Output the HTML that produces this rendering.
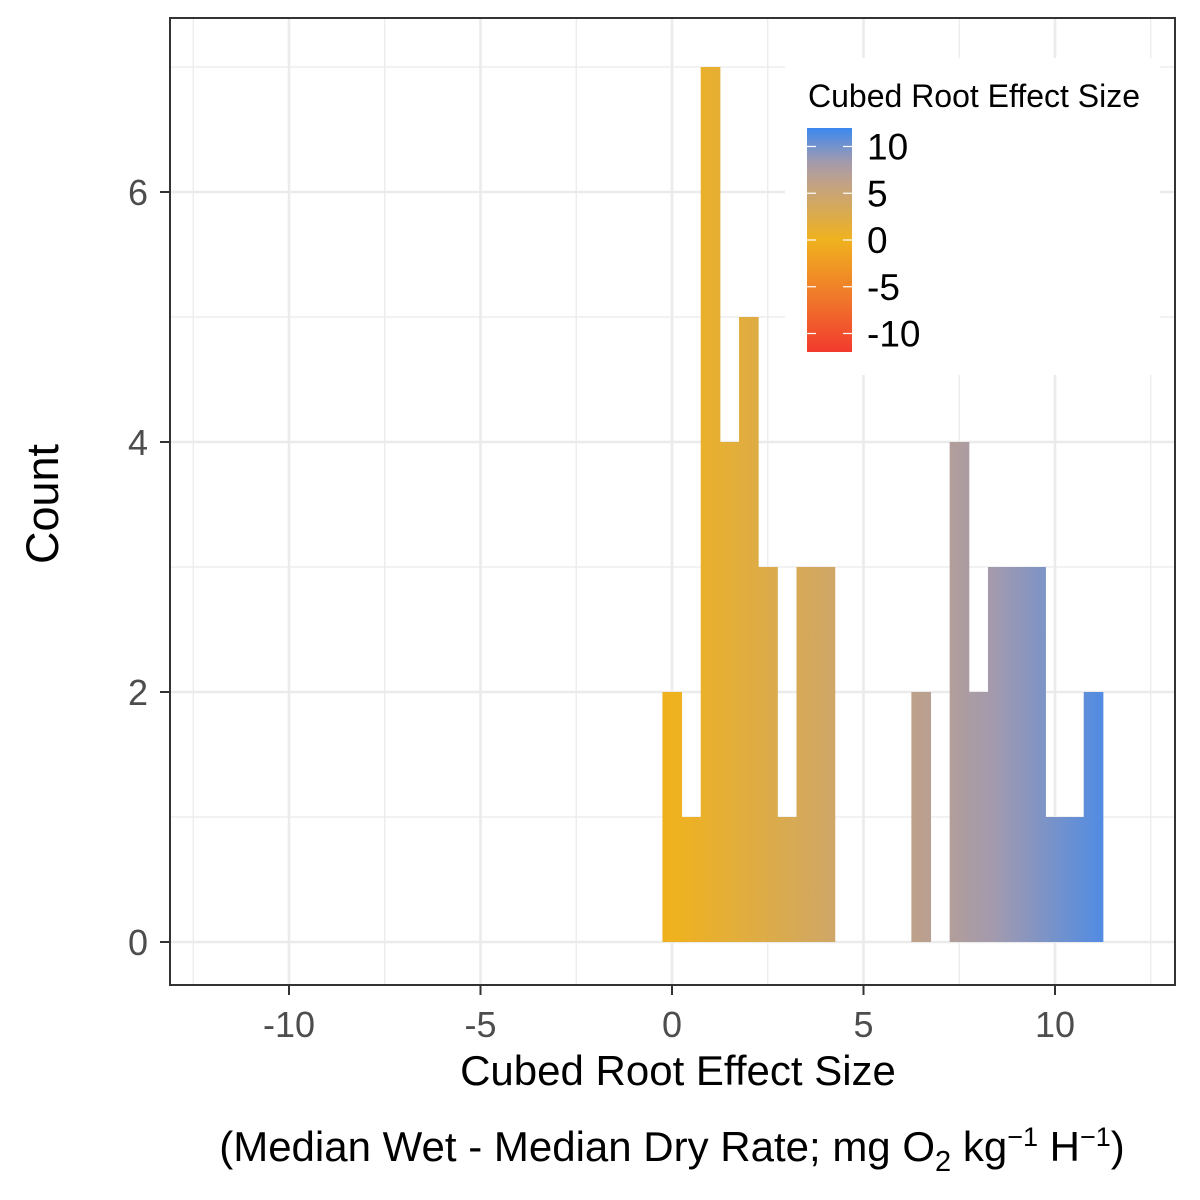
<!DOCTYPE html>
<html><head><meta charset="utf-8"><style>
html,body{margin:0;padding:0;background:#fff}
svg{display:block;font-family:"Liberation Sans",Arial,sans-serif}
</style></head><body>
<svg id="chart" width="1200" height="1200" viewBox="0 0 1200 1200">
<defs>
<linearGradient id="xgrad" gradientUnits="userSpaceOnUse" x1="212" y1="0" x2="1132" y2="0">
<stop offset="0" stop-color="#F23A2E"/>
<stop offset="0.25" stop-color="#F07A2A"/>
<stop offset="0.5" stop-color="#EFB21E"/>
<stop offset="0.75" stop-color="#C2A285"/>
<stop offset="0.85" stop-color="#A39AAE"/>
<stop offset="1" stop-color="#3B88F0"/>
</linearGradient>
<linearGradient id="lgrad" x1="0" y1="1" x2="0" y2="0">
<stop offset="0" stop-color="#F23A2E"/>
<stop offset="0.25" stop-color="#F07A2A"/>
<stop offset="0.5" stop-color="#EFB21E"/>
<stop offset="0.75" stop-color="#C2A285"/>
<stop offset="0.85" stop-color="#A39AAE"/>
<stop offset="1" stop-color="#3B88F0"/>
</linearGradient>
</defs>
<g id="grid"></g>
<g id="bars"></g>
<rect x="170" y="18" width="1005" height="967" fill="none" stroke="#333" stroke-width="2"/>
<g id="axes"></g>
<text x="678" y="1085" font-size="42" text-anchor="middle" fill="#000">Cubed Root Effect Size</text>
<text x="672" y="1161" font-size="42" text-anchor="middle" fill="#000">(Median Wet - Median Dry Rate; mg O<tspan font-size="29" dy="10">2</tspan><tspan dy="-10"> kg</tspan><tspan font-size="27" dy="-15">−1</tspan><tspan dy="15"> H</tspan><tspan font-size="27" dy="-15">−1</tspan><tspan dy="15">)</tspan></text>
<text transform="translate(58,504) rotate(-90)" font-size="45" text-anchor="middle" fill="#000">Count</text>
<g>
<rect x="785" y="58" width="375" height="317" fill="#fff"/>
<text x="808" y="107" font-size="32" fill="#000">Cubed Root Effect Size</text>
<rect x="807" y="128" width="45" height="224" fill="url(#lgrad)"/>
<g id="legendticks"></g>
</g>
</svg>
<script>
const counts = [2,1,7,4,5,3,1,3,3,0,0,0,0,2,0,4,2,3,3,3,1,1,2];
const binStart = 0;
const binWidth = 0.5;
const xTicks = [-10,-5,0,5,10];
const xMinor = [-12.5,-7.5,-2.5,2.5,7.5,12.5];
const yTicks = [0,2,4,6];
const yMinor = [1,3,5,7];
const legendTicks = [10,5,0,-5,-10];

const NS="http://www.w3.org/2000/svg";
const xs=v=>672+v*38.3;
const ys=v=>942-v*125;
const ls=v=>240-v*9.35;
function mk(tag,attrs,parent){const e=document.createElementNS(NS,tag);for(const k in attrs)e.setAttribute(k,attrs[k]);parent.appendChild(e);return e;}
const grid=document.getElementById('grid'),bars=document.getElementById('bars'),axes=document.getElementById('axes'),lt=document.getElementById('legendticks');
xMinor.forEach(v=>{const l=mk('line',{x1:xs(v),x2:xs(v),y1:18,y2:985,stroke:'#EBEBEB','stroke-width':1.3},grid);

});
yMinor.forEach(v=>{const l=mk('line',{x1:170,x2:1175,y1:ys(v),y2:ys(v),stroke:'#EBEBEB','stroke-width':1.3},grid);

});
xTicks.forEach(v=>{const l=mk('line',{x1:xs(v),x2:xs(v),y1:18,y2:985,stroke:'#EBEBEB','stroke-width':2.6},grid);


const t=mk('line',{x1:xs(v),x2:xs(v),y1:985,y2:995,stroke:'#333','stroke-width':2},axes);


const tx=mk('text',{x:xs(v),y:1037,'font-size':36,'text-anchor':'middle',fill:'#4D4D4D'},axes);tx.textContent=v;

});
yTicks.forEach(v=>{const l=mk('line',{x1:170,x2:1175,y1:ys(v),y2:ys(v),stroke:'#EBEBEB','stroke-width':2.6},grid);


const t=mk('line',{x1:160,x2:170,y1:ys(v),y2:ys(v),stroke:'#333','stroke-width':2},axes);


const tx=mk('text',{x:148,y:ys(v)+13,'font-size':36,'text-anchor':'end',fill:'#4D4D4D'},axes);tx.textContent=v;

});
counts.forEach((c,i)=>{if(!c)return;const cx=binStart+i*binWidth;const x0=xs(cx-binWidth/2),x1=xs(cx+binWidth/2);
const r=mk('rect',{x:x0,y:ys(c),width:x1-x0+0.5,height:ys(0)-ys(c),fill:'url(#xgrad)'},bars);

});
legendTicks.forEach(v=>{const y=ls(v);
const a=mk('line',{x1:807,x2:816,y1:y,y2:y,stroke:'#fff','stroke-width':1.2},lt);


const b=mk('line',{x1:843,x2:852,y1:y,y2:y,stroke:'#fff','stroke-width':1.2},lt);


const tx=mk('text',{x:867,y:y+13,'font-size':37,fill:'#000'},lt);tx.textContent=v;

});
</script>
</body></html>
